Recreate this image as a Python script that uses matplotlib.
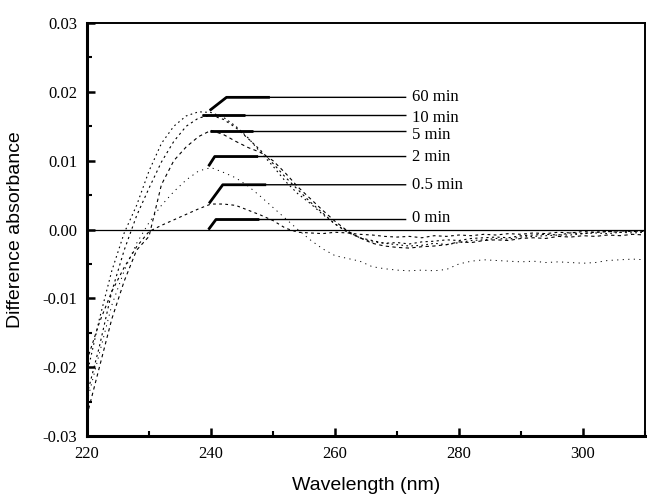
import numpy as np
import matplotlib
matplotlib.use("Agg")
import matplotlib.pyplot as plt
from matplotlib.ticker import MultipleLocator

# ---------------- data ----------------
wavelength = np.arange(220, 311, 2)

abs_60min = [-0.021, -0.013, -0.006, -0.0005, 0.0035, 0.0085, 0.0125, 0.0150, 0.0165, 0.0171,
             0.0170, 0.0163, 0.0150, 0.0133, 0.0112, 0.0092, 0.0070, 0.0052, 0.0038, 0.0022,
             0.0008, -0.0003, -0.0012, -0.0018, -0.0020, -0.0022, -0.0024, -0.0023, -0.0020, -0.0022,
             -0.0019, -0.0016, -0.0015, -0.0013, -0.0014, -0.0011, -0.0010, -0.0009, -0.0008, -0.0008,
             -0.0006, -0.0005, -0.0006, -0.0004, -0.0005, -0.0004]

abs_10min = [-0.024, -0.017, -0.009, -0.003, 0.002, 0.006, 0.0098, 0.0128, 0.0150, 0.0162,
             0.0166, 0.0160, 0.0148, 0.0132, 0.0115, 0.0096, 0.0076, 0.0058, 0.0040, 0.0024,
             0.0008, -0.0004, -0.0012, -0.0016, -0.0020, -0.0019, -0.0021, -0.0018, -0.0017, -0.0015,
             -0.0016, -0.0013, -0.0012, -0.0011, -0.0012, -0.0009, -0.0008, -0.0007, -0.0008, -0.0005,
             -0.0006, -0.0004, -0.0003, -0.0004, -0.0002, -0.0003]

abs_5min = [-0.027, -0.020, -0.013, -0.0075, -0.003, -0.001, 0.0065, 0.0100, 0.0120, 0.0135,
            0.0144, 0.0138, 0.0128, 0.0119, 0.0112, 0.0100, 0.0082, 0.0062, 0.0045, 0.0028,
            0.0012, -0.0002, -0.0012, -0.0020, -0.0024, -0.0026, -0.0027, -0.0025, -0.0024, -0.0022,
            -0.0018, -0.0019, -0.0016, -0.0015, -0.0016, -0.0013, -0.0012, -0.0013, -0.0010, -0.0011,
            -0.0009, -0.0010, -0.0008, -0.0009, -0.0007, -0.0008]

abs_2min = [-0.025, -0.018, -0.011, -0.006, -0.002, 0.001, 0.0035, 0.0055, 0.0072, 0.0085,
            0.0090, 0.0083, 0.0075, 0.0063, 0.0048, 0.0032, 0.0016, 0.0000, -0.0015, -0.0028,
            -0.0038, -0.0042, -0.0046, -0.0054, -0.0057, -0.0059, -0.0060, -0.0059, -0.0060, -0.0058,
            -0.0050, -0.0046, -0.0044, -0.0045, -0.0046, -0.0047, -0.0046, -0.0048, -0.0047, -0.0048,
            -0.0049, -0.0048, -0.0045, -0.0044, -0.0043, -0.0044]

abs_05min = [-0.019, -0.0135, -0.009, -0.0055, -0.0025, -0.0003, 0.0006, 0.0014, 0.0022, 0.0030,
             0.0037, 0.0037, 0.0035, 0.0028, 0.0021, 0.0013, 0.0002, -0.0004, -0.0005, -0.0006,
             -0.0004, -0.0005, -0.0007, -0.0008, -0.0010, -0.0011, -0.0010, -0.0012, -0.0009, -0.0010,
             -0.0008, -0.0009, -0.0007, -0.0008, -0.0006, -0.0007, -0.0005, -0.0006, -0.0004, -0.0005,
             -0.0003, -0.0004, -0.0003, -0.0002, -0.0003, -0.0002]

abs_0min = [0.0] * len(wavelength)

labels = ["60 min", "10 min", "5 min", "2 min", "0.5 min", "0 min"]
leader_start_x = [239.8, 238.5, 239.8, 239.6, 239.7, 239.6]
leader_start_y = [0.0173, 0.0166, 0.0143, 0.0092, 0.0038, 0.0000]
leader_bend_x = [242.5, 238.5, 239.8, 240.6, 241.9, 240.8]
leader_line_y = [0.0192, 0.0166, 0.0143, 0.0106, 0.0065, 0.00145]
leader_end_x = 271.5
label_text_y = [0.0193, 0.0162, 0.0137, 0.0105, 0.0065, 0.0017]

# ---------------- figure ----------------
fig = plt.figure(figsize=(6.47, 4.95), dpi=100)
ax = fig.add_axes([87 / 647, 1 - 436 / 495, (645 - 87) / 647, (436 - 23) / 495])

ax.plot(wavelength, abs_0min, color="black", lw=0.9, ls="-")
ax.plot(wavelength, abs_05min, color="black", lw=0.8, ls=(0, (2.5, 3)))
ax.plot(wavelength, abs_2min, color="black", lw=0.7, ls=(0, (1.2, 4.5)))
ax.plot(wavelength, abs_5min, color="black", lw=0.8, ls=(0, (3, 3)))
ax.plot(wavelength, abs_10min, color="black", lw=0.8, ls=(0, (2, 3)))
ax.plot(wavelength, abs_60min, color="black", lw=0.8, ls=(0, (1.5, 3)))

for name, sx, sy, bx, ly, ty in zip(labels, leader_start_x, leader_start_y,
                                     leader_bend_x, leader_line_y, label_text_y):
    ax.plot([sx, bx, leader_end_x], [sy, ly, ly], color="black", lw=1.0,
            solid_capstyle="butt")
    ax.plot([sx, bx, bx + 7], [sy, ly, ly], color="black", lw=2.0,
            solid_capstyle="butt")
    ax.text(leader_end_x + 0.9, ty, name, fontsize=12, family="Liberation Serif",
            va="center", ha="left")

ax.set_xlim(220, 310)
ax.set_ylim(-0.03, 0.03)
ax.xaxis.set_minor_locator(MultipleLocator(10))
ax.yaxis.set_minor_locator(MultipleLocator(0.005))
ax.set_xticks([220, 240, 260, 280, 300])
ax.set_xticklabels(["220", "240", "260", "280", "300"])
ax.set_yticks([-0.03, -0.02, -0.01, 0.0, 0.01, 0.02, 0.03])
ax.set_yticklabels(["-0.03", "-0.02", "-0.01", "0.00", "0.01", "0.02", "0.03"])

ax.tick_params(which="major", direction="in", length=6, width=1.8, pad=7,
               labelsize=12, top=False, right=False)
ax.tick_params(which="minor", direction="in", length=3.5, width=1.5,
               top=False, right=False)
for lab in ax.get_xticklabels() + ax.get_yticklabels():
    lab.set_family("Liberation Serif")

ax.spines["left"].set_linewidth(2.2)
ax.spines["bottom"].set_linewidth(2.2)
ax.spines["top"].set_linewidth(1.4)
ax.spines["right"].set_linewidth(1.4)

ax.set_xlabel("Wavelength (nm)", fontsize=14, family="Liberation Sans", labelpad=11)
ax.set_ylabel("Difference absorbance", fontsize=14, family="Liberation Sans", labelpad=13)

fig.savefig("out.png", dpi=100)
